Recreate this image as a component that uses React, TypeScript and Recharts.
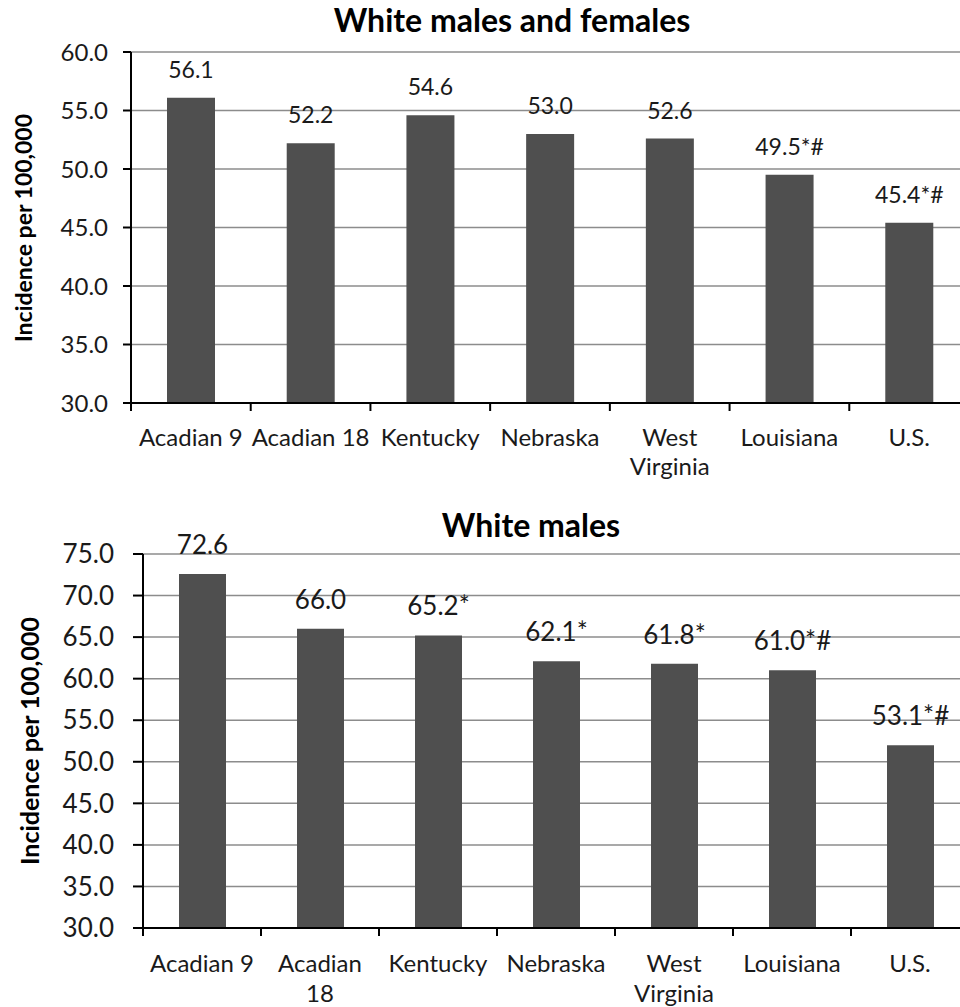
import { BarChart, Bar, XAxis, YAxis, CartesianGrid, LabelList } from 'recharts'

const categories = ['Acadian 9', 'Acadian 18', 'Kentucky', 'Nebraska', 'West Virginia', 'Louisiana', 'U.S.']

// white males and females
const allValues = [56.1, 52.2, 54.6, 53.0, 52.6, 49.5, 45.4]
const allLabels = ['56.1', '52.2', '54.6', '53.0', '52.6', '49.5*#', '45.4*#']
const allTicks = [30, 35, 40, 45, 50, 55, 60]
const allTickLines = [['Acadian 9'], ['Acadian 18'], ['Kentucky'], ['Nebraska'], ['West', 'Virginia'], ['Louisiana'], ['U.S.']]

// white males (last bar is drawn lower than its printed label)
const maleValues = [72.6, 66.0, 65.2, 62.1, 61.8, 61.0, 52.0]
const maleLabels = ['72.6', '66.0', '65.2*', '62.1*', '61.8*', '61.0*#', '53.1*#']
const maleTicks = [30, 35, 40, 45, 50, 55, 60, 65, 70, 75]
const maleTickLines = [['Acadian 9'], ['Acadian', '18'], ['Kentucky'], ['Nebraska'], ['West', 'Virginia'], ['Louisiana'], ['U.S.']]

const FONT = 'Lato, "Open Sans", sans-serif'
const TEXT = '#1a1a1a'
const BAR = '#4f4f4f'
const GRID = '#8c8c8c'

interface PanelProps {
  values: number[]
  labels: string[]
  ticks: number[]
  tickLines: string[][]
  top: number
  height: number
  marginTop: number
  plotHeight: number
  yAxisWidth: number
  yTickSize: number
  yTickMargin: number
  yFont: number
  labelFont: number
  barSize: number
  firstDy: number
  lineHeight: number
}

const CHART_W = 980
const MARGIN_R = 11

function Panel(p: PanelProps) {
  const data = categories.map((c, i) => ({ name: c, value: p.values[i], label: p.labels[i] }))
  const band = (CHART_W - MARGIN_R - p.yAxisWidth) / categories.length

  const CategoryTick = (props: any) => {
    const { x, y, index } = props
    const lines = p.tickLines[index] || []
    return (
      <g>
        <line x1={x - band / 2} x2={x - band / 2} y1={y - 8} y2={y} stroke="#000" strokeWidth={2} />
        {index === categories.length - 1 && (
          <line x1={x + band / 2} x2={x + band / 2} y1={y - 8} y2={y} stroke="#000" strokeWidth={2} />
        )}
        <text x={x} y={y + p.firstDy} textAnchor="middle" fill={TEXT} fontSize={24} fontFamily={FONT}>
          {lines.map((l, i) => (
            <tspan key={i} x={x} dy={i === 0 ? 0 : p.lineHeight}>{l}</tspan>
          ))}
        </text>
      </g>
    )
  }

  const renderLabel = (props: any) => {
    const { x, y, width, value } = props
    return (
      <text x={x + width / 2} y={y - 20} textAnchor="middle" fill={TEXT} fontSize={p.labelFont} fontFamily={FONT}>
        {value}
      </text>
    )
  }

  return (
    <div style={{ position: 'absolute', left: 0, top: p.top }}>
      <BarChart width={CHART_W} height={p.height} data={data}
        margin={{ top: p.marginTop, right: MARGIN_R, bottom: 0, left: 0 }}>
        <CartesianGrid vertical={false} stroke={GRID} strokeWidth={1.5} />
        <XAxis dataKey="name" height={p.height - p.marginTop - p.plotHeight}
          interval={0} tickLine={false} tickSize={8} tickMargin={0}
          axisLine={{ stroke: '#000', strokeWidth: 2 }} tick={<CategoryTick />} />
        <YAxis type="number" width={p.yAxisWidth} domain={[p.ticks[0], p.ticks[p.ticks.length - 1]]}
          ticks={p.ticks} interval={0} tickFormatter={(v: number) => v.toFixed(1)}
          tickSize={p.yTickSize} tickMargin={p.yTickMargin}
          axisLine={{ stroke: '#000', strokeWidth: 2 }} tickLine={{ stroke: '#000', strokeWidth: 2 }}
          tick={{ fill: TEXT, fontSize: p.yFont, fontFamily: FONT }} />
        <Bar dataKey="value" fill={BAR} barSize={p.barSize} isAnimationActive={false}>
          <LabelList dataKey="label" content={renderLabel} />
        </Bar>
      </BarChart>
    </div>
  )
}

export default function App() {
  return (
    <div style={{ position: 'absolute', left: 0, top: 0, width: 960, height: 1007, overflow: 'hidden', background: '#fff' }}>
      <Panel values={allValues} labels={allLabels} ticks={allTicks} tickLines={allTickLines}
        top={0} height={490} marginTop={52} plotHeight={351} yAxisWidth={131} yTickSize={8} yTickMargin={15}
        yFont={24} labelFont={23} barSize={48} firstDy={35} lineHeight={29} />
      <Panel values={maleValues} labels={maleLabels} ticks={maleTicks} tickLines={maleTickLines}
        top={490} height={517} marginTop={64} plotHeight={374} yAxisWidth={143} yTickSize={10} yTickMargin={19}
        yFont={26} labelFont={26} barSize={47} firstDy={36} lineHeight={30} />
      <svg width={960} height={1007} style={{ position: 'absolute', left: 0, top: 0, pointerEvents: 'none' }}>
        <text x={512} y={32} textAnchor="middle" fontWeight="bold" fontSize={32} fontFamily={FONT} fill="#000">
          White males and females
        </text>
        <text x={531} y={537} textAnchor="middle" fontWeight="bold" fontSize={32} fontFamily={FONT} fill="#000">
          White males
        </text>
        <text transform="translate(32,228) rotate(-90)" textAnchor="middle" fontWeight="bold" fontSize={23} fontFamily={FONT} fill="#000">
          Incidence per 100,000
        </text>
        <text transform="translate(39,741) rotate(-90)" textAnchor="middle" fontWeight="bold" fontSize={25} fontFamily={FONT} fill="#000">
          Incidence per 100,000
        </text>
      </svg>
    </div>
  )
}
